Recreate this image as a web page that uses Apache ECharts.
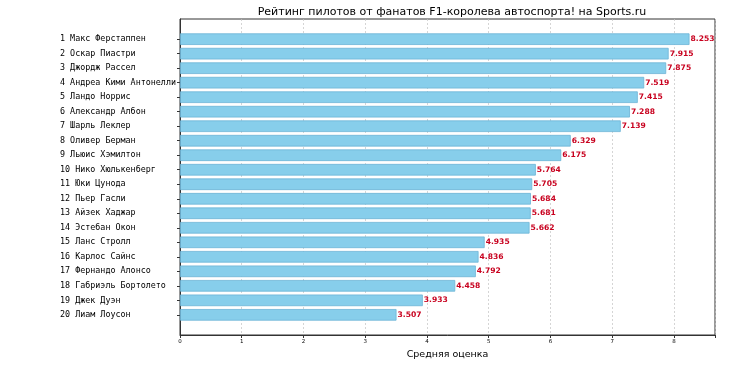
<!DOCTYPE html>
<html><head><meta charset="utf-8">
<script src="https://cdn.jsdelivr.net/npm/echarts@6/dist/echarts.min.js"></script>
<style>html,body{margin:0;padding:0;background:#fff}#c{width:730px;height:365px}</style>
</head><body><div id="c"></div>
<script>
var names = ["1 Макс Ферстаппен","2 Оскар Пиастри","3 Джордж Рассел","4 Андреа Кими Антонелли","5 Ландо Норрис","6 Александр Албон","7 Шарль Леклер","8 Оливер Берман","9 Льюис Хэмилтон","10 Нико Хюлькенберг","11 Юки Цунода","12 Пьер Гасли","13 Айзек Хаджар","14 Эстебан Окон","15 Ланс Стролл","16 Карлос Сайнс","17 Фернандо Алонсо","18 Габриэль Бортолето","19 Джек Дуэн","20 Лиам Лоусон"];
var scores = [8.253,7.915,7.875,7.519,7.415,7.288,7.139,6.329,6.175,5.764,5.705,5.684,5.681,5.662,4.935,4.836,4.792,4.458,3.933,3.507];
var titleText = "Рейтинг пилотов от фанатов F1-королева автоспорта! на Sports.ru";
var xLabel = "Средняя оценка";
var xMax = 8.666;

var chart = echarts.init(document.getElementById('c'), null, {renderer:'canvas'});
chart.setOption({
  animation:false,
  backgroundColor:'#fff',
  title:{text:titleText,left:447,textAlign:'center',top:2,textStyle:{fontFamily:'DejaVu Sans',fontSize:11,fontWeight:'normal',color:'#000'}},
  grid:[
    {left:180,right:15,top:19,bottom:30,show:true,borderColor:'#333',borderWidth:1,backgroundColor:'transparent'},
    {left:180,right:15,top:31.9,height:290.2}
  ],
  xAxis:[
    {gridIndex:0,type:'value',min:0,max:xMax,interval:1,
     name:xLabel,nameLocation:'middle',nameGap:15,nameTextStyle:{fontFamily:'DejaVu Sans',fontSize:9.5,color:'#000'},
     axisLine:{show:true,lineStyle:{color:'#333',width:1}},
     axisTick:{show:true,length:3,lineStyle:{color:'#333'}},
     axisLabel:{fontFamily:'DejaVu Sans',fontSize:5.5,color:'#000',margin:4,
       formatter:function(v){return Math.abs(v-Math.round(v))<1e-6?String(Math.round(v)):'';}},
     splitLine:{show:true,lineStyle:{color:'#c4c4c4',type:[2,2],width:0.7}}},
    {gridIndex:1,type:'value',min:0,max:xMax,show:false}
  ],
  yAxis:[
    {gridIndex:0,type:'value',min:0,max:1,axisLine:{show:true,lineStyle:{color:'#333'}},axisTick:{show:false},axisLabel:{show:false},splitLine:{show:false}},
    {gridIndex:1,type:'category',inverse:true,data:names,
     axisLine:{show:false},
     axisTick:{show:true,alignWithLabel:true,length:3,lineStyle:{color:'#333'}},
     axisLabel:{align:'left',margin:120,fontFamily:'DejaVu Sans Mono',fontSize:8.4,color:'#000'}}
  ],
  series:[{
    type:'bar',xAxisIndex:1,yAxisIndex:1,data:scores,barWidth:'80%',
    itemStyle:{color:'#87CEEB',borderColor:'#6cb4d6',borderWidth:0.8},
    label:{show:true,position:'right',distance:1,fontFamily:'DejaVu Sans',fontWeight:'bold',fontSize:7.6,color:'#c8001e',
      formatter:function(p){return p.value.toFixed(3);}}
  }]
});
</script></body></html>
